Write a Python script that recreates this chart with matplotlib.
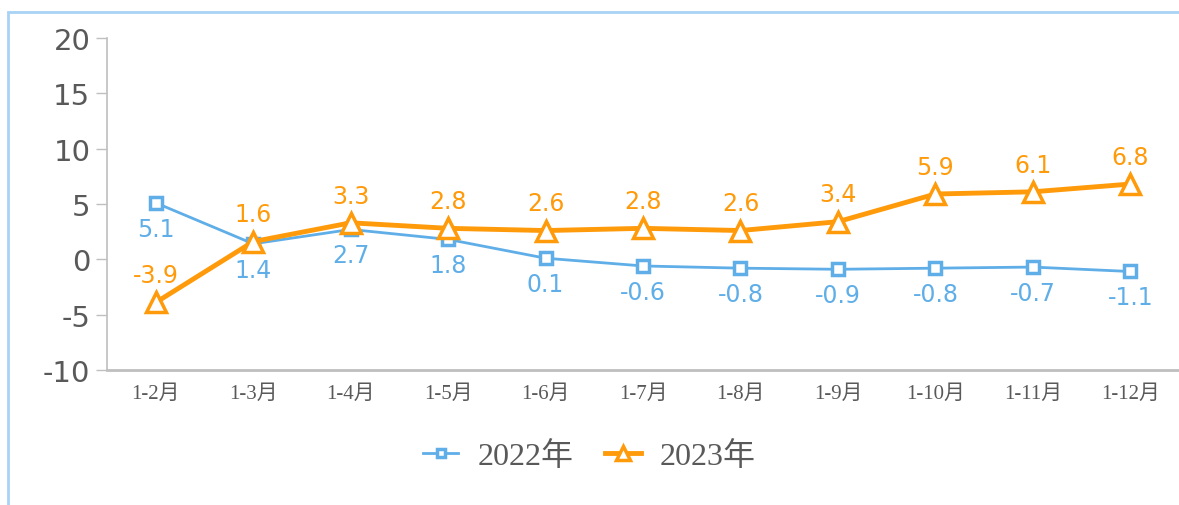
import matplotlib.pyplot as plt
from matplotlib.patches import Rectangle

months = ["1-2月", "1-3月", "1-4月", "1-5月", "1-6月", "1-7月",
          "1-8月", "1-9月", "1-10月", "1-11月", "1-12月"]
y2022 = [5.1, 1.4, 2.7, 1.8, 0.1, -0.6, -0.8, -0.9, -0.8, -0.7, -1.1]
y2023 = [-3.9, 1.6, 3.3, 2.8, 2.6, 2.8, 2.6, 3.4, 5.9, 6.1, 6.8]
yticks = [-10, -5, 0, 5, 10, 15, 20]

BLUE = "#5FAEE8"
ORANGE = "#FF9A0A"
GRAY = "#595959"
CJK_SERIF = ["Liberation Serif", "Noto Sans CJK SC"]

fig = plt.figure(figsize=(11.79, 5.06), dpi=100)
ax = fig.add_axes([0.0908, 0.2668, 0.9092, 0.6562])

x = list(range(len(months)))
ax.plot(x, y2022, color=BLUE, lw=2, marker="s", ms=9, mfc="white",
        mec=BLUE, mew=2.5, label="2022年", zorder=3)
ax.plot(x, y2023, color=ORANGE, lw=3.5, marker="^", ms=14, mfc="white",
        mec=ORANGE, mew=2.5, label="2023年", zorder=4)

for i, v in enumerate(y2022):
    ax.annotate(f"{v:.1f}", (i, v), xytext=(0, -10), textcoords="offset points",
                ha="center", va="top", color=BLUE, fontsize=17)
for i, v in enumerate(y2023):
    ax.annotate(f"{v:.1f}", (i, v), xytext=(0, 11), textcoords="offset points",
                ha="center", va="bottom", color=ORANGE, fontsize=17)

ax.set_xlim(-0.5, len(months) - 0.5)
ax.set_ylim(-10, 20)
ax.set_yticks(yticks)
ax.set_yticklabels([str(t) for t in yticks], fontsize=21, color=GRAY)
ax.set_xticks(x)
ax.set_xticklabels(months, fontsize=15, color=GRAY, family=CJK_SERIF)
ax.tick_params(axis="y", length=8, width=1, color="#BFBFBF", pad=4)
ax.tick_params(axis="x", length=0, pad=10)

for s in ["top", "right"]:
    ax.spines[s].set_visible(False)
ax.spines["left"].set_color("#BFBFBF")
ax.spines["left"].set_linewidth(1.2)
ax.spines["bottom"].set_color("#BFBFBF")
ax.spines["bottom"].set_linewidth(2)

leg = fig.legend(loc="center", bbox_to_anchor=(0.5, 0.097), ncol=2, frameon=False,
                 prop={"family": CJK_SERIF, "size": 23}, handlelength=1.1,
                 columnspacing=1.0, handletextpad=0.6, markerscale=0.7)
for t in leg.get_texts():
    t.set_color(GRAY)

fig.add_artist(Rectangle((8 / 1179, -0.1), 1.2, 1 - 13 / 506 + 0.1,
                         transform=fig.transFigure, fill=False,
                         edgecolor="#A9D3F5", lw=2))

fig.savefig("out.png", dpi=100)
